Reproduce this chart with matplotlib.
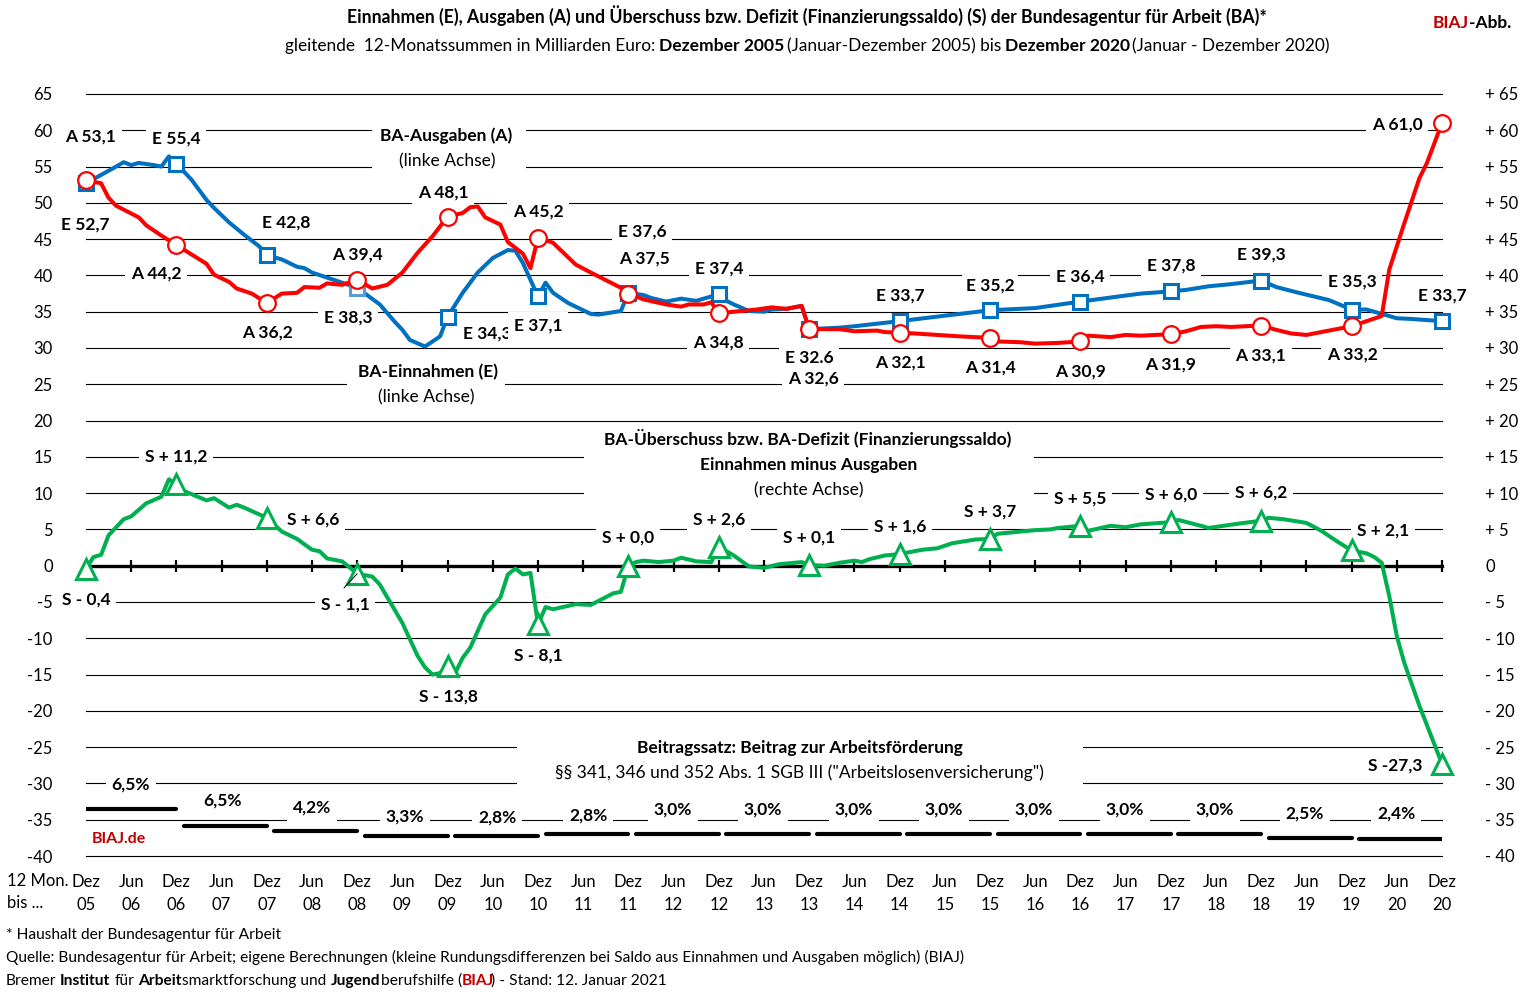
import matplotlib
matplotlib.use("Agg")
import matplotlib.pyplot as plt
from matplotlib.patches import Rectangle

W, H = 1521, 996
RED = "#ff0000"
DARK_RED = "#c00000"
BLUE = "#0070c0"
GREEN = "#00b050"

plt.rcParams["font.family"] = ["Lato", "DejaVu Sans"]

# months since Dez 05
e_months = [0, 4, 5, 6, 7, 9, 10, 11, 12, 14, 16, 17, 19, 21, 23, 24, 26, 28, 29, 30, 32, 34, 36,
            39, 41, 42, 43, 45, 47, 48, 50, 52, 54, 56, 57, 58, 60, 61, 62, 64, 67, 68, 71, 72,
            74, 75, 77, 79, 81, 84, 85, 86, 88, 90, 91, 93, 95, 96, 100, 102, 108, 120, 126, 132,
            140, 144, 146, 149, 152, 156, 158, 161, 165, 168, 170, 172, 174, 176, 180]
e_values = [52.7, 55.0, 55.6, 55.2, 55.5, 55.2, 55.0, 56.4, 55.4, 53.2, 50.4, 49.3, 47.3, 45.6, 44.0, 42.8, 42.2, 41.2, 41.0, 40.4, 39.7, 39.0, 38.3,
            36.0, 33.6, 32.5, 31.1, 30.2, 31.6, 34.3, 37.6, 40.4, 42.4, 43.5, 43.4, 41.7, 37.1, 39.0, 37.6, 36.2, 34.7, 34.6, 35.1, 37.6,
            37.3, 36.9, 36.4, 36.8, 36.5, 37.4, 36.5, 36.0, 35.1, 35.0, 35.3, 35.4, 35.8, 32.6, 32.8, 33.0, 33.7, 35.2, 35.5, 36.4,
            37.5, 37.8, 38.0, 38.5, 38.8, 39.3, 38.4, 37.6, 36.6, 35.3, 35.3, 34.7, 34.1, 34.0, 33.7]

a_months = [0, 2, 3, 4, 7, 8, 10, 12, 14, 16, 17, 19, 20, 22, 24, 26, 28, 29, 31, 32, 34, 36,
            38, 40, 42, 44, 46, 48, 50, 51, 52, 53, 55, 56, 58, 59, 60, 62, 65, 67, 71, 72,
            74, 77, 79, 80, 82, 83, 84, 86, 89, 91, 93, 95, 96, 100, 102, 105, 106, 108, 110, 113, 116,
            120, 121, 124, 126, 129, 132, 133, 136, 138, 140, 144, 146, 148, 150, 152, 156, 158, 160, 162, 165, 168,
            172, 173, 175, 177, 178, 180]
a_values = [53.1, 52.7, 50.7, 49.6, 48.0, 46.9, 45.5, 44.2, 42.9, 41.6, 40.1, 39.1, 38.2, 37.5, 36.2, 37.5, 37.6, 38.4, 38.3, 38.9, 38.7, 39.4,
            38.2, 38.7, 40.4, 43.1, 45.4, 48.1, 48.6, 49.4, 49.5, 48.0, 47.0, 44.6, 43.0, 41.0, 45.2, 44.5, 41.5, 40.4, 38.3, 37.5,
            36.7, 36.0, 35.7, 36.0, 36.0, 36.3, 34.8, 35.0, 35.3, 35.6, 35.4, 35.8, 32.6, 32.6, 32.3, 32.4, 32.2, 32.1, 32.0, 31.8, 31.6,
            31.4, 30.9, 30.8, 30.6, 30.7, 30.9, 31.7, 31.5, 31.8, 31.7, 31.9, 32.3, 32.9, 33.0, 32.9, 33.1, 32.5, 32.0, 31.8, 32.4, 33.0,
            34.4, 40.8, 47.2, 53.4, 55.5, 61.0]

s_months = [0, 1, 2, 3, 5, 6, 8, 10, 11, 12, 13, 16, 17, 19, 20, 21, 24, 26, 28, 30, 31, 32, 34, 36,
            38, 39, 42, 44, 45, 46, 47, 48, 49, 50, 51, 53, 55, 56, 57, 58, 59, 60, 61, 62, 65, 67, 70, 71, 72,
            73, 74, 76, 78, 79, 81, 83, 84, 86, 88, 90, 92, 95, 96, 98, 100, 102, 103, 104, 106, 108,
            111, 113, 115, 118, 120, 121, 124, 126, 128, 129, 132, 133, 136, 138, 140, 144, 145, 148, 149, 153, 156, 157, 159, 162,
            164, 166, 168, 170, 171, 172, 173, 174, 175, 177, 180]
s_values = [-0.4, 1.2, 1.5, 4.2, 6.4, 6.8, 8.6, 9.5, 11.9, 11.2, 10.3, 9.0, 9.3, 8.0, 8.4, 8.0, 6.6, 4.7, 3.7, 2.2, 2.0, 1.0, 0.6, -1.1,
            -1.5, -2.6, -7.9, -12.4, -14.0, -15.0, -14.8, -13.8, -14.8, -12.7, -11.3, -6.7, -4.4, -1.2, -0.4, -1.2, -1.0, -8.1, -5.7, -6.0, -5.3, -5.4, -3.8, -3.6, 0.0,
            0.5, 0.7, 0.5, 0.7, 1.1, 0.6, 0.5, 2.6, 1.4, -0.1, -0.3, 0.2, 0.5, 0.1, 0.0, 0.4, 0.7, 0.5, 0.9, 1.4, 1.6,
            2.2, 2.4, 3.1, 3.6, 3.7, 4.4, 4.7, 4.9, 5.0, 5.2, 5.5, 4.8, 5.5, 5.3, 5.7, 6.0, 6.3, 5.5, 5.2, 5.8, 6.2, 6.6, 6.4, 5.9,
            4.8, 3.4, 2.1, 1.7, 1.2, 0.4, -4.2, -9.7, -13.4, -19.3, -27.3]

# Beitragssatz strokes, drawn on the left axis
rate_start = [0, 13, 25, 37, 49, 61, 73, 85, 97, 109, 121, 133, 145, 157, 169]
rate_end = [12, 24, 36, 48, 60, 72, 84, 96, 108, 120, 132, 144, 156, 168, 180]
rate_level = [-33.5, -35.8, -36.6, -37.2, -37.2, -37.0, -37.0, -37.0, -37.0, -37.0, -37.0, -37.0, -37.0, -37.5, -37.6]

y_ticks = list(range(-40, 70, 5))
x_months = list(range(0, 181, 6))
x_names = ["Dez", "Jun"] * 15 + ["Dez"]
x_years = ["05", "06", "06", "07", "07", "08", "08", "09", "09", "10", "10", "11", "11", "12", "12", "13",
           "13", "14", "14", "15", "15", "16", "16", "17", "17", "18", "18", "19", "19", "20", "20"]


fig = plt.figure(figsize=(W / 100, H / 100), dpi=100)
ax_pos = [86 / W, 1 - 856 / H, (1442 - 86) / W, (856 - 94) / H]
ax = fig.add_axes(ax_pos)


def label(x, y, s, bold=True, size=12.5, color="black", pad=3):
    # x, y are pixels of the finished picture
    weight = "bold" if bold else "normal"
    ax.text(x / W, 1 - (y + 1) / H, s, transform=fig.transFigure, ha="center", va="center", fontsize=size,
            fontweight=weight, color=color, clip_on=False, zorder=2,
            bbox=dict(facecolor="white", edgecolor="none", pad=pad))


def plain(x, y, s, bold=False, size=11.2, color="black"):
    # y is the baseline
    fig.text(x / W, 1 - y / H, s, ha="left", va="baseline", fontsize=size,
             fontweight="bold" if bold else "normal", color=color)


def mask(x0, y0, x1, y1):
    ax.add_patch(Rectangle((x0 / W, 1 - y1 / H), (x1 - x0) / W, (y1 - y0) / H, transform=fig.transFigure,
                           facecolor="white", edgecolor="none", zorder=1.5, clip_on=False))


ax.set_xlim(0, 180)
ax.set_ylim(-40, 65)
ax.set_axisbelow(True)
ax.set_yticks(y_ticks)
ax.set_yticklabels([str(v) for v in y_ticks], fontsize=12)
ax.tick_params(axis="y", length=0, pad=24)
ax.grid(axis="y", color="black", linewidth=0.8)
for line in ax.get_ygridlines():
    line.set_clip_on(False)
ax.set_xticks(x_months)
ax.set_xticklabels([])
ax.tick_params(axis="x", direction="inout", length=8, width=1.6)
for side in ["top", "left", "right"]:
    ax.spines[side].set_visible(False)
ax.spines["bottom"].set_position(("data", 0))
ax.spines["bottom"].set_linewidth(2.4)

right = ax.twinx()
right.set_ylim(-40, 65)
right.set_yticks(y_ticks)
right.set_yticklabels(["0" if v == 0 else ("+ %d" % v if v > 0 else "- %d" % -v) for v in y_ticks], fontsize=12)
right.tick_params(axis="y", length=0, pad=31)
for side in ["top", "left", "right", "bottom"]:
    right.spines[side].set_visible(False)

# month labels sit at the foot, the axis line itself stays at zero
bottom = fig.add_axes(ax_pos, frameon=False)
bottom.set_xlim(0, 180)
bottom.set_yticks([])
bottom.set_xticks(x_months)
bottom.set_xticklabels([n + "\n" + y for n, y in zip(x_names, x_years)], fontsize=12, linespacing=1.55)
bottom.tick_params(axis="x", length=0, pad=13)

# white areas behind the long captions
mask(372, 122, 526, 172)
mask(347, 378, 505, 390)
mask(584, 450, 1034, 500)
mask(517, 740, 1083, 790)

# series
dec_e = [e_months.index(m) for m in range(0, 181, 12) if m != 36]
dec_a = [a_months.index(m) for m in range(0, 181, 12)]
dec_s = [s_months.index(m) for m in range(0, 181, 12)]
ax.plot(e_months, e_values, color=BLUE, linewidth=2.9, solid_joinstyle="round", zorder=3, clip_on=False,
        marker="s", markevery=dec_e, markersize=10, markerfacecolor="white", markeredgecolor=BLUE, markeredgewidth=2.2)
i36 = e_months.index(36)
ax.plot(e_months[i36], e_values[i36], color="#5b9bd5", zorder=3, marker="s", markersize=10,
        markerfacecolor="white", markeredgewidth=2.2, clip_on=False)
ax.plot(a_months, a_values, color=RED, linewidth=2.9, solid_joinstyle="round", zorder=3.2, clip_on=False,
        marker="o", markevery=dec_a, markersize=12, markerfacecolor="white", markeredgecolor=RED, markeredgewidth=1.6)
ax.plot(s_months, s_values, color=GREEN, linewidth=2.9, solid_joinstyle="round", zorder=3.1, clip_on=False,
        marker="^", markevery=dec_s, markersize=15, markerfacecolor="white", markeredgecolor=GREEN, markeredgewidth=2.2)

for start, end, level in zip(rate_start, rate_end, rate_level):
    ax.plot([start, end], [level, level], color="black", linewidth=3, solid_capstyle="round", zorder=3)

ax.annotate("", xy=(36, -1.1), xytext=(344 / W, 1 - 588 / H), textcoords="figure fraction",
            arrowprops=dict(arrowstyle="-", color="black", linewidth=0.7, shrinkA=0, shrinkB=0), zorder=3.3)

# labels E and A
label(91, 136, "A 53,1", pad=4)
label(176, 138, "E 55,4", pad=4)
label(446, 135, "BA-Ausgaben (A)")
label(447, 160, "(linke Achse)", bold=False)
label(443, 192, "A 48,1", pad=4)
label(85, 224, "E 52,7")
label(286, 222, "E 42,8")
label(357, 254, "A 39,4")
label(156, 273, "A 44,2", pad=4)
label(348, 317, "E 38,3", pad=4)
label(267, 332, "A 36,2")
label(487, 333, "E 34,3", pad=1)
label(538, 325, "E 37,1", pad=4)
label(538, 211, "A 45,2", pad=4)
label(642, 231, "E 37,6", pad=4)
label(644, 258, "A 37,5")
label(719, 268, "E 37,4", pad=4)
label(900, 295, "E 33,7")
label(990, 285, "E 35,2")
label(1080, 276, "E 36,4", pad=4)
label(1171, 265, "E 37,8", pad=4)
label(1261, 254, "E 39,3", pad=4)
label(1352, 281, "E 35,3", pad=4)
label(1442, 295, "E 33,7")
label(1397, 124, "A 61,0", pad=4)
label(718, 342, "A 34,8", pad=4)
label(809, 357, "E 32.6", pad=4)
label(813, 378, "A 32,6", pad=4)
label(900, 362, "A 32,1", pad=4)
label(990, 367, "A 31,4")
label(1080, 371, "A 30,9")
label(1171, 364, "A 31,9", pad=4)
label(1261, 355, "A 33,1", pad=4)
label(1352, 354, "A 33,2", pad=4)
label(428, 371, "BA-Einnahmen (E)")
label(426, 396, "(linke Achse)", bold=False)

# labels S
label(808, 437.5, "BA-Überschuss bzw. BA-Defizit (Finanzierungssaldo)")
label(809, 464, "Einnahmen minus Ausgaben")
label(809, 489, "(rechte Achse)", bold=False)
label(176, 456, "S + 11,2", pad=4)
label(313, 519, "S + 6,6", pad=4)
label(86, 599, "S - 0,4", pad=4)
label(345, 604, "S - 1,1", pad=4)
label(448, 696, "S - 13,8")
label(538, 655, "S - 8,1")
label(628, 537, "S + 0,0", pad=4)
label(719, 519, "S + 2,6", pad=4)
label(809, 537, "S + 0,1", pad=4)
label(900, 526, "S + 1,6", pad=4)
label(990, 511, "S + 3,7")
label(1080, 498, "S + 5,5", pad=4)
label(1171, 494, "S + 6,0", pad=4)
label(1261, 492, "S + 6,2", pad=4)
label(1383, 530, "S + 2,1", pad=4)
label(1395, 765, "S -27,3")

# Beitragssatz
label(800, 747, "Beitragssatz: Beitrag zur Arbeitsförderung")
label(799, 772, "§§ 341, 346 und 352 Abs. 1 SGB III (\"Arbeitslosenversicherung\")", bold=False)
label(131, 784, "6,5%", pad=4)
label(222, 800, "6,5%", pad=4)
label(312, 807, "4,2%", pad=4)
label(405, 816, "3,3%", pad=4)
label(497, 817, "2,8%", pad=4)
label(588, 815, "2,8%", pad=4)
label(673, 809, "3,0%", pad=4)
label(763, 809, "3,0%", pad=4)
label(854, 809, "3,0%", pad=4)
label(944, 809, "3,0%", pad=4)
label(1034, 809, "3,0%", pad=4)
label(1125, 809, "3,0%", pad=4)
label(1215, 809, "3,0%", pad=4)
label(1305, 813, "2,5%", pad=4)
label(1396, 813, "2,4%", pad=4)
label(119, 838, "BIAJ.de", color=DARK_RED, size=11.5, pad=1)

# header
plain(347, 22.5, "Einnahmen (E), Ausgaben (A) und Überschuss bzw. Defizit (Finanzierungssaldo) (S) der Bundesagentur für Arbeit (BA)*", bold=True, size=12.7)
plain(285, 51, "gleitende  12-Monatssummen in Milliarden Euro:", size=12.4)
plain(659, 51, "Dezember 2005", bold=True, size=12.6)
plain(787, 51, "(Januar-Dezember 2005) bis", size=12.4)
plain(1005, 51, "Dezember 2020", bold=True, size=12.6)
plain(1132, 51, "(Januar - Dezember 2020)", size=12.4)
plain(1433, 28, "BIAJ", bold=True, size=12.5, color=DARK_RED)
plain(1469, 28, "-Abb.", bold=True, size=12.5)

# axis captions
plain(7, 885.5, "12 Mon.", size=12)
plain(7, 908, "bis ...", size=12)

# footer
plain(6, 939, "* Haushalt der Bundesagentur für Arbeit")
plain(6, 962, "Quelle: Bundesagentur für Arbeit; eigene Berechnungen (kleine Rundungsdifferenzen bei Saldo aus Einnahmen und Ausgaben möglich) (BIAJ)")
plain(6, 985, "Bremer")
plain(60, 985, "Institut", bold=True)
plain(115, 985, "für")
plain(138, 985, "Arbeit", bold=True)
plain(182, 985, "smarktforschung und")
plain(331, 985, "Jugend", bold=True)
plain(381, 985, "berufshilfe (")
plain(462, 985, "BIAJ", bold=True, color=DARK_RED)
plain(491, 985, ") - Stand: 12. Januar 2021")

fig.savefig("out.png", dpi=100)
